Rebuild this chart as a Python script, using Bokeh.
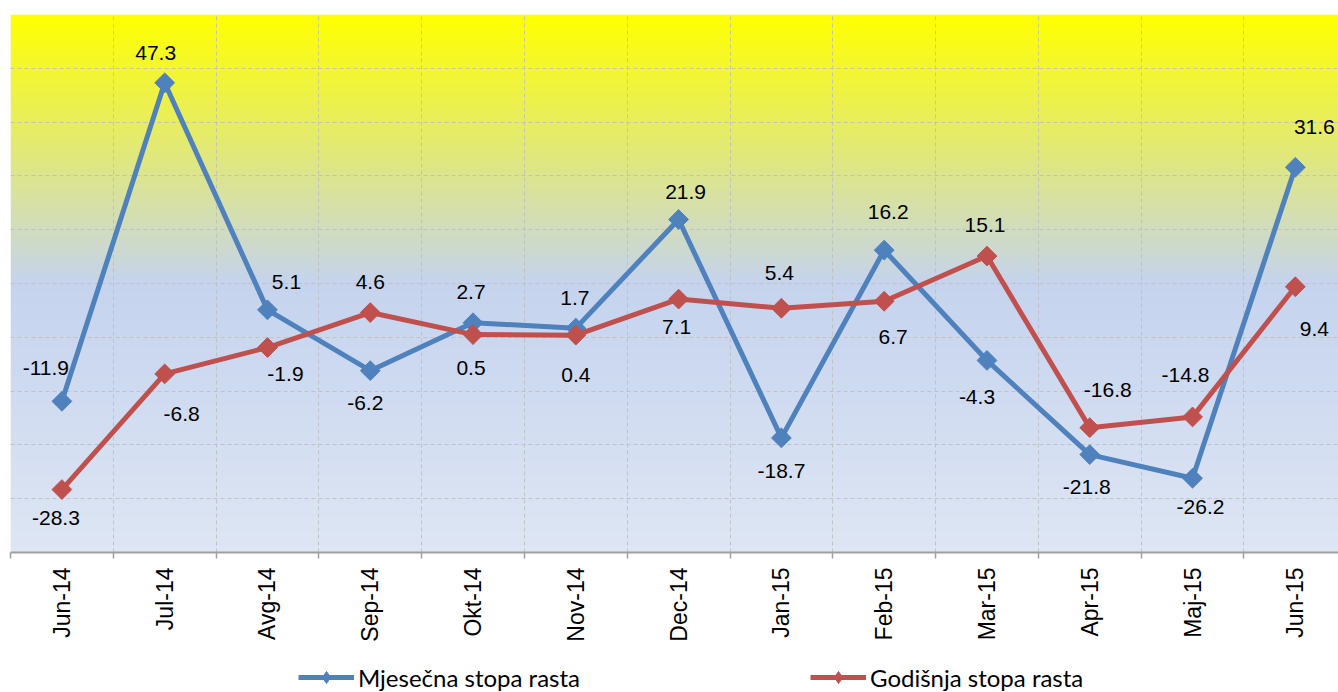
import math
import numpy as np
from bokeh.plotting import figure
from bokeh.layouts import column
from bokeh.models import FixedTicker, Legend, LegendItem, ColumnDataSource
from bokeh.embed import file_html
from bokeh.resources import INLINE
from bokeh.core.properties import value

# ---- data ----
months = ["Jun-14", "Jul-14", "Avg-14", "Sep-14", "Okt-14", "Nov-14", "Dec-14",
          "Jan-15", "Feb-15", "Mar-15", "Apr-15", "Maj-15", "Jun-15"]
monthly = [-11.9, 47.3, 5.1, -6.2, 2.7, 1.7, 21.9, -18.7, 16.2, -4.3, -21.8, -26.2, 31.6]
annual = [-28.3, -6.8, -1.9, 4.6, 0.5, 0.4, 7.1, 5.4, 6.7, 15.1, -16.8, -14.8, 9.4]
series_names = ["Mjesečna stopa rasta", "Godišnja stopa rasta"]
y_grid_values = [-40, -30, -20, -10, 0, 10, 20, 30, 40, 50, 60]

# ---- label placement (screen px, + = down) ----
monthly_dx = [-16, -9, 19, -5, -2, -1, 7, 0, 4, -10, -3, 8, 19]
monthly_dy = [-33, -30, -28, 32, -31, -30, -27, 33, -38, 37, 32, 29, -40]
annual_dx = [-6, 17, 18, 0, -2, 0, -2, -2, 9, -2, 18, -7, 19]
annual_dy = [28, 40, 26, -31, 33, 40, 28, -35, 36, -31, -38, -42, 42]

BLUE = "#4F81BD"
RED = "#C0504D"
colors = [BLUE, RED]
x = list(range(len(months)))

x_start, x_end = -0.5, 12.42
y_start, y_end = -40, 60

p = figure(width=1338, height=647, output_backend="svg", toolbar_location=None,
           x_range=(x_start, x_end), y_range=(y_start, y_end),
           y_axis_location=None, min_border_left=10, min_border_right=0,
           min_border_top=14, min_border_bottom=95)
p.outline_line_color = None
p.background_fill_color = "white"
p.border_fill_color = "white"

# ---- gradient background ----
N = 540
stops = [(0.0, (255, 255, 0)), (0.5, (197, 211, 238)), (1.0, (222, 230, 244))]
img = np.zeros((N, 1), dtype=np.uint32)
view = img.view(dtype=np.uint8).reshape((N, 1, 4))
for i in range(N):
    t = 1.0 - (i + 0.5) / N  # fraction from top (row 0 is bottom)
    for (t0, c0), (t1, c1) in zip(stops[:-1], stops[1:]):
        if t0 <= t <= t1:
            f = (t - t0) / (t1 - t0)
            col = [round(c0[k] + (c1[k] - c0[k]) * f) for k in range(3)]
            break
    view[i, 0, 0] = col[0]
    view[i, 0, 1] = col[1]
    view[i, 0, 2] = col[2]
    view[i, 0, 3] = 255
p.image_rgba(image=[img], x=x_start, y=y_start, dw=x_end - x_start, dh=y_end - y_start,
             level="image")

# ---- grids ----
p.ygrid.ticker = FixedTicker(ticks=y_grid_values)
p.xgrid.ticker = FixedTicker(ticks=[i - 0.5 for i in range(len(months) + 1)])
for g in (p.xgrid, p.ygrid):
    g.grid_line_color = "#BDBDBD"
    g.grid_line_alpha = 0.85
    g.grid_line_dash = "4 3"
    g.grid_line_width = 1

# ---- x axis ----
ax = p.xaxis[0]
ax.ticker = FixedTicker(ticks=x, minor_ticks=[i - 0.5 for i in range(len(months) + 1)])
ax.major_label_overrides = {i: m for i, m in enumerate(months)}
ax.major_label_orientation = math.pi / 2
ax.major_tick_in = 0
ax.major_tick_out = 0
ax.minor_tick_in = 0
ax.minor_tick_out = 6
ax.minor_tick_line_color = "#A0A0A0"
ax.minor_tick_line_width = 1.5
ax.axis_line_color = "#A0A0A0"
ax.axis_line_width = 2
ax.major_label_standoff = 9
ax.major_label_text_font = "Liberation Sans"
ax.major_label_text_font_size = "23px"
ax.major_label_text_color = "black"

# ---- series ----
src_m = ColumnDataSource(dict(x=x, y=monthly, lab=[f"{v:.1f}" for v in monthly],
                              dx=monthly_dx, dy=monthly_dy))
src_a = ColumnDataSource(dict(x=x, y=annual, lab=[f"{v:.1f}" for v in annual],
                              dx=annual_dx, dy=annual_dy))

for src, col in ((src_m, BLUE), (src_a, RED)):
    p.line("x", "y", source=src, line_color=col, line_width=5)
    p.scatter("x", "y", source=src, marker="square", angle=math.pi / 4, size=14,
              fill_color=col, line_color=col)

for src in (src_m, src_a):
    p.text("x", "y", text="lab", source=src, x_offset="dx", y_offset="dy",
           text_align="center", text_baseline="middle",
           text_font=value("Liberation Sans"), text_font_size="21px", text_color="black")

# ---- legend strip ----
lg = figure(width=1338, height=45, output_backend="svg", toolbar_location=None,
            x_range=(0, 1), y_range=(0, 1), x_axis_location=None, y_axis_location=None,
            min_border_left=0, min_border_right=0, min_border_top=0, min_border_bottom=0)
lg.outline_line_color = None
lg.xgrid.visible = False
lg.ygrid.visible = False
items = []
for col, name in zip(colors, series_names):
    ln = lg.line([-10, -9], [-10, -9], line_color=col, line_width=5)
    mk = lg.scatter([-10], [-10], marker="diamond", size=14,
                    fill_color=col, line_color=col)
    items.append(LegendItem(label=name, renderers=[ln, mk]))
legend = Legend(items=items, orientation="horizontal", location=(288, 0),
                glyph_width=56, glyph_height=30, label_standoff=4, spacing=230,
                padding=0, margin=0, background_fill_alpha=0, border_line_color=None,
                label_text_font="Lato", label_text_font_size="24px",
                label_text_color="black")
lg.add_layout(legend, "center")

layout = column(p, lg, spacing=0)
open("out.html", "w").write(file_html(layout, INLINE))
